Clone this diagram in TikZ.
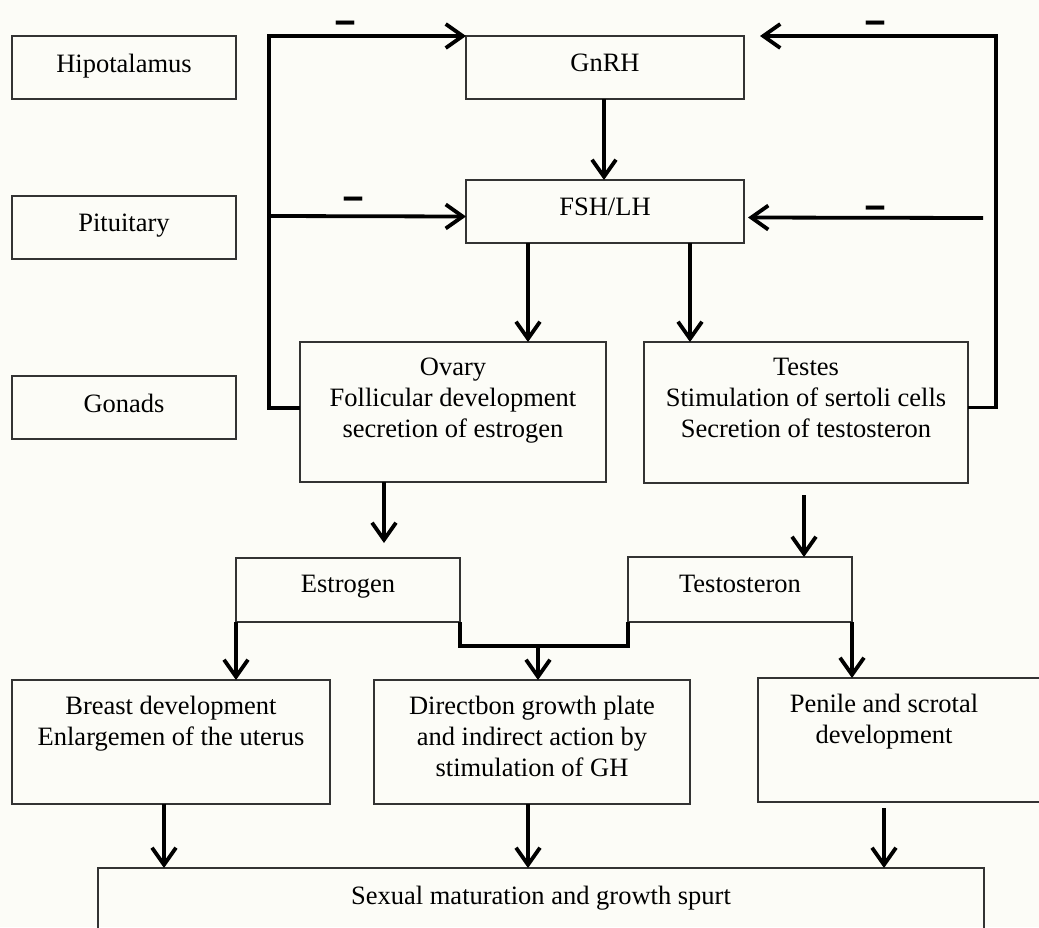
\documentclass[tikz,border=0pt]{standalone}
\usepackage{fontspec}
\setmainfont{Liberation Serif}
\usetikzlibrary{arrows.meta}
\definecolor{bgcol}{HTML}{FCFCF7}
\definecolor{boxline}{HTML}{333333}
\begin{document}
\begin{tikzpicture}[x=1pt,y=-1pt,
  box/.style={draw=boxline,line width=1.3pt,inner sep=0pt,outer sep=0pt,anchor=north west},
  txt/.style={anchor=north,inner sep=0pt,align=center,font=\fontsize{26.5}{31}\selectfont},
  minus/.style={inner sep=0pt,font=\fontsize{36}{36}\selectfont\bfseries},
  conn/.style={line width=3.8pt,line join=miter},
  arr/.style={conn,-{Straight Barb[length=17pt,width=24pt]}}]
\fill[bgcol] (0,0) rectangle (1039,927);
\useasboundingbox (0,0) rectangle (1039,927);

% boxes
\node[box,minimum width=224pt,minimum height=63pt] (hip) at (12,36) {};
\node[box,minimum width=224pt,minimum height=63pt] (pit) at (12,196) {};
\node[box,minimum width=224pt,minimum height=63pt] (gon) at (12,376) {};
\node[box,minimum width=278pt,minimum height=63pt] (gnrh) at (466,36) {};
\node[box,minimum width=278pt,minimum height=63pt] (fsh) at (466,180) {};
\node[box,minimum width=306pt,minimum height=140pt] (ovary) at (300,342) {};
\node[box,minimum width=324pt,minimum height=141pt] (testes) at (644,342) {};
\node[box,minimum width=224pt,minimum height=64pt] (estro) at (236,558) {};
\node[box,minimum width=224pt,minimum height=65pt] (testo) at (628,557) {};
\node[box,minimum width=318pt,minimum height=124pt] (breast) at (12,680) {};
\node[box,minimum width=316pt,minimum height=124pt] (direct) at (374,680) {};
\node[box,minimum width=290pt,minimum height=124pt] (penile) at (758,678) {};
\node[box,minimum width=886pt,minimum height=80pt] (sexual) at (98,868) {};

% texts
\node[txt] (hipt) at ([yshift=-18pt]hip.north) {Hipotalamus};
\node[txt] (pitt) at ([yshift=-18pt]pit.north) {Pituitary};
\node[txt] (gont) at ([yshift=-18pt]gon.north) {Gonads};
\node[txt] (gnrht) at ([yshift=-18pt]gnrh.north) {GnRH};
\node[txt] (fsht) at ([yshift=-18pt]fsh.north) {FSH/LH};
\node[txt] (ovaryt) at ([yshift=-16pt]ovary.north) {Ovary\\Follicular development\\secretion of estrogen};
\node[txt] (testest) at ([yshift=-16pt]testes.north) {Testes\\Stimulation of sertoli cells\\Secretion of testosteron};
\node[txt] (estrot) at ([yshift=-17pt]estro.north) {Estrogen};
\node[txt] (testot) at ([yshift=-18pt]testo.north) {Testosteron};
\node[txt] (breastt) at ([yshift=-16pt]breast.north) {Breast development\\Enlargemen of the uterus};
\node[txt] (directt) at ([yshift=-16pt]direct.north) {Directbon growth plate\\and indirect action by\\stimulation of GH};
\node[txt] (penilet) at (884,694) {Penile and scrotal\\development};
\node[txt] (sexualt) at ([yshift=-18pt]sexual.north) {Sexual maturation and growth spurt};

% minus signs
\node[minus] (m1) at (345,29) {\scalebox{1}[1.6]{--}};
\node[minus] (m2) at (353,205) {\scalebox{1}[1.6]{--}};
\node[minus] (m3) at (875,29) {\scalebox{1}[1.6]{--}};
\node[minus] (m4) at (875,214) {\scalebox{1}[1.6]{--}};

% helper coordinates
\coordinate (lft) at (269,36);
\coordinate (lfm) at (269,216);
\coordinate (rft) at (996,36);
\coordinate (rtip) at (760,36);
\coordinate (rfm) at (983,218);
\coordinate (xg) at (604,0);
\coordinate (xo) at (528,0);
\coordinate (xt) at (690,0);
\coordinate (oe) at (384,543);
\coordinate (tt) at (804,495);
\coordinate (mj) at (538,646);
\coordinate (xb) at (164,0);
\coordinate (xd) at (528,0);
\coordinate (ps) at (884,808);

% feedback loops
\draw[arr] ([yshift=4pt]ovary.west) -| (lft) -- (gnrh.north west);
\draw[arr] (lfm) -- ([yshift=-5pt]fsh.west);
\draw[arr] ([yshift=5pt]testes.east) -| (rft) -- (rtip);
\draw[arr] (rfm) -- ([xshift=4pt,yshift=-6pt]fsh.east);

% main flow
\draw[arr] (gnrh.south -| xg) -- (fsh.north -| xg);
\draw[arr] (fsh.south -| xo) -- (ovary.north -| xo);
\draw[arr] (fsh.south -| xt) -- (testes.north -| xt);
\draw[arr] (ovary.south -| oe) -- (oe);
\draw[arr] (tt) -- (tt |- testo.north);
\draw[arr] (estro.south west) -- (estro.south west |- breast.north);
\draw[conn] (estro.south east) |- (mj) -| (testo.south west);
\draw[arr] (mj) -- (mj |- direct.north);
\draw[arr] (testo.south east) -- (testo.south east |- penile.north);
\draw[arr] (breast.south -| xb) -- (sexual.north -| xb);
\draw[arr] (direct.south -| xd) -- (sexual.north -| xd);
\draw[arr] (ps) -- (ps |- sexual.north);
\end{tikzpicture}
\end{document}
